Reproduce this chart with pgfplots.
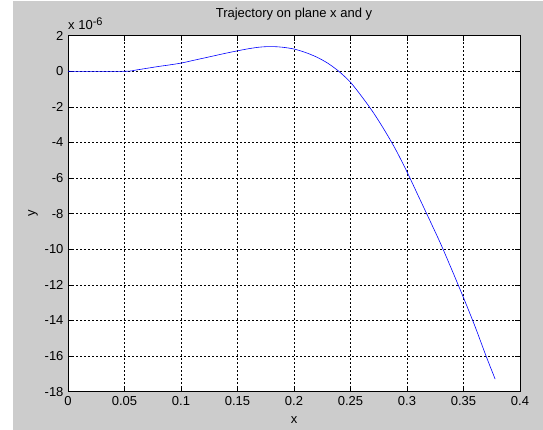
\documentclass[border=0pt]{standalone}
\usepackage{pgfplots}
\pgfplotsset{compat=1.18}
\usepackage{fontspec}
\setmainfont{Liberation Sans}
\definecolor{figgray}{RGB}{204,204,204}
\begin{document}
\begin{tikzpicture}
\fill[white] (0,0) rectangle (543pt,430pt);
\fill[figgray] (13pt,0) rectangle (543pt,429pt);
\begin{axis}[
  at={(68pt,38.3pt)}, anchor=south west,
  scale only axis, width=452pt, height=356pt,
  xmin=0, xmax=0.4, ymin=-18, ymax=2,
  xtick={0,0.05,...,0.4}, ytick={-18,-16,...,2},
  xticklabels={0,0.05,0.1,0.15,0.2,0.25,0.3,0.35,0.4},
  /pgf/number format/assume math mode=true,
  tick label style={font=\fontsize{13}{15}\selectfont},
  xticklabel style={yshift=-1pt},
  yticklabel style={xshift=-1pt},
  label style={font=\fontsize{13}{15}\selectfont},
  title style={font=\fontsize{13}{15}\selectfont, at={(axis description cs:0.5,1.045)}, anchor=center},
  title={Trajectory on plane x and y},
  xlabel={x}, ylabel={y},
  xlabel style={at={(axis description cs:0.5,-0.079)}, anchor=center},
  ylabel style={at={(axis description cs:-0.0774,0.5)}, anchor=center},
  axis background/.style={fill=white},
  axis line style={black, line width=0.6pt},
  grid=major,
  major grid style={black, dash pattern=on 2pt off 2pt, line width=0.6pt},
  major tick length=5pt,
  tick style={black, line width=0.6pt},
  tick align=inside,
  xtick pos=both, ytick pos=both,
  clip mode=individual,
]
\addplot[blue, line width=0.6pt, smooth, tension=0.5] coordinates {
(0,0) (0.05,0) (0.06,0.07) (0.07,0.17) (0.08,0.27) (0.09,0.36) (0.10,0.46)
(0.11,0.6) (0.12,0.74) (0.13,0.88) (0.14,1.02) (0.15,1.15) (0.16,1.27)
(0.17,1.36) (0.18,1.39) (0.19,1.35) (0.20,1.25) (0.21,1.06) (0.22,0.8)
(0.23,0.45) (0.24,-0.02) (0.25,-0.62) (0.26,-1.42) (0.27,-2.3) (0.28,-3.3)
(0.29,-4.4) (0.30,-5.65) (0.31,-7.0) (0.32,-8.35) (0.33,-9.72) (0.34,-11.2)
(0.35,-12.72) (0.36,-14.3) (0.37,-16.0) (0.378,-17.29)
};
\node[anchor=base west, inner sep=0pt, font=\fontsize{13}{15}\selectfont] at ([yshift=6pt]rel axis cs:0,1) {x 10\textsuperscript{\fontsize{11}{13}\selectfont -6}};
\end{axis}
\end{tikzpicture}
\end{document}
